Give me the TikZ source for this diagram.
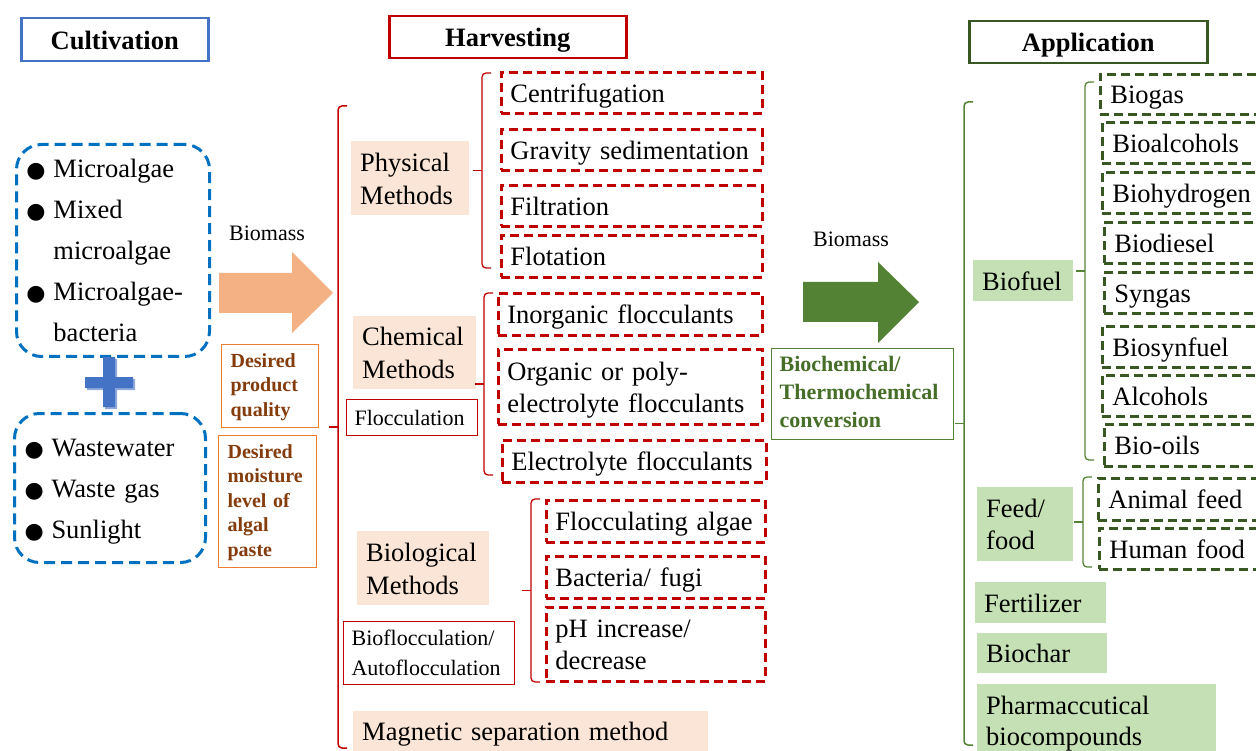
\documentclass[tikz,border=0pt]{standalone}
\usepackage{fontspec}
\setmainfont{Liberation Serif}
\newfontfamily\symfont{DejaVu Sans}
\usetikzlibrary{calc}
\definecolor{hred}{RGB}{192,0,0}
\definecolor{hblue}{RGB}{68,114,196}
\definecolor{cblue}{RGB}{0,112,192}
\definecolor{plusshade}{RGB}{143,170,220}
\definecolor{peach}{RGB}{251,229,214}
\definecolor{lgreen}{RGB}{197,224,180}
\definecolor{dgreen}{RGB}{56,87,35}
\definecolor{mgreen}{RGB}{84,130,53}
\definecolor{convgreen}{RGB}{70,110,40}
\definecolor{orng}{RGB}{244,177,131}
\definecolor{orngline}{RGB}{237,125,49}
\definecolor{brownt}{RGB}{132,60,12}
\newcommand{\bul}{\makebox[27pt][l]{\symfont\fontsize{22}{22}\selectfont ●}}
\newcommand{\nobul}{\hspace*{27pt}}
% side brace: top, bottom, tick in the middle
\newcommand{\sidebrace}[3][]{%
  \draw[brk,#1] ($(#2)+(9,0)$) -- (#2) -- (#3) -- ($(#3)+(9,0)$);
  \draw[brk,#1] ($(#2)!0.5!(#3)$) -- ++(-9,0);}
\begin{document}
\begin{tikzpicture}[x=1pt,y=-1pt,
    every node/.style={anchor=north west, inner ysep=0pt, align=left},
    title/.style={draw=#1, line width=2.5pt, align=center, inner xsep=0pt,
        font=\bfseries\fontsize{26.5}{30}\selectfont, text height=24pt, text depth=5pt},
    rbox/.style={draw=hred, line width=2.8pt, dash pattern=on 9pt off 5pt, inner xsep=9pt,
        font=\fontsize{26.5}{32}\selectfont, text height=24pt, text depth=5pt},
    gbox/.style={draw=dgreen, line width=2.8pt, dash pattern=on 9pt off 5pt, inner xsep=10pt,
        font=\fontsize{26.5}{32}\selectfont, text height=24pt, text depth=5pt},
    pfill/.style={fill=peach, inner xsep=9pt,
        font=\fontsize{26.5}{33}\selectfont, text height=24pt, text depth=5pt},
    gfill/.style={fill=lgreen, inner xsep=9pt,
        font=\fontsize{26.5}{32}\selectfont, text height=24pt, text depth=5pt},
    small/.style={draw=hred, line width=1.2pt, inner xsep=8pt,
        font=\fontsize{22}{30}\selectfont, text height=19pt, text depth=4pt},
    cond/.style={draw=orngline, line width=1.2pt, text=brownt, inner xsep=9pt,
        font=\bfseries\fontsize{20}{24.5}\selectfont, text height=15pt},
    conv/.style={draw=mgreen, line width=1.2pt, text=convgreen, inner xsep=8pt,
        font=\bfseries\fontsize{22}{28}\selectfont, text height=16pt},
    cult/.style={draw=cblue, line width=3pt, dash pattern=on 11pt off 6pt, rounded corners=25pt,
        inner xsep=10pt, font=\fontsize{26.5}{41}\selectfont, text height=24pt},
    brk/.style={line width=1.3pt, rounded corners=4pt},
    lbl/.style={anchor=center, font=\fontsize{22}{22}\selectfont}]
    \path[use as bounding box, clip] (0,0) rectangle (1256,751);
    % Titles
    \node[title=hblue, text width=187pt, minimum height=43pt] (cultT) at (20,17) {Cultivation};
    \node[title=hred, text width=237pt, minimum height=42pt] (harvT) at (388,15) {Harvesting};
    \node[title=dgreen, text width=238pt, minimum height=42pt] (applT) at (968,20) {Application};
    % Cultivation
    \node[cult, text width=173pt, minimum height=212pt, text depth=169pt] (cult1) at (15,143)
        {\bul Microalgae\\\bul Mixed\\\nobul microalgae\\\bul Microalgae-\\\nobul bacteria};
    \node[cult, text width=171pt, minimum height=149pt, text depth=87pt] (cult2) at (13,412)
        {\bul Wastewater\\\bul Waste gas\\\bul Sunlight};
    \fill[plusshade] (87,379) rectangle (135,390) (105,359) rectangle (117,409);
    \fill[hblue] (85,377) rectangle (133,388) (103,357) rectangle (115,407);
    % Cultivation -> Harvesting
    \node[lbl] (bm1) at (267,233) {Biomass};
    \fill[orng] (219,273) -- (292,273) -- (292,252) -- (333,293) -- (292,333) -- (292,313) -- (219,313) -- cycle;
    \node[cond, text width=79pt, minimum height=83pt, text depth=53pt] (qual) at (221,344)
        {Desired\\product\\quality};
    \node[cond, text width=80pt, minimum height=132pt, text depth=102pt] (moist) at (218,435)
        {Desired\\moisture\\level of\\algal\\paste};
    % Harvesting
    \coordinate (hv-top) at (338,106);
    \coordinate (hv-bot) at (338,748);
    \sidebrace[hred, line width=1.5pt]{hv-top}{hv-bot}
    \node[pfill, text width=100pt, minimum height=74pt, text depth=38pt] (phys) at (351,141) {Physical\\Methods};
    \node[rbox, text width=243pt, minimum height=41pt] (cent) at (500,71) {Centrifugation};
    \node[rbox, text width=243pt, minimum height=41pt] (grav) at (500,128) {Gravity sedimentation};
    \node[rbox, text width=243pt, minimum height=41pt] (filt) at (500,184) {Filtration};
    \node[rbox, text width=243pt, minimum height=42pt] (flot) at (500,234) {Flotation};
    \coordinate (phys-top) at (482,73);
    \coordinate (phys-bot) at (482,268);
    \sidebrace[hred]{phys-top}{phys-bot}
    \node[pfill, text width=105pt, minimum height=73pt, text depth=38pt] (chem) at (353,316) {Chemical\\Methods};
    \node[small, text width=115pt, minimum height=36pt] (floc) at (346,399) {Flocculation};
    \node[rbox, text width=246pt, minimum height=42pt] (inorg) at (497,292) {Inorganic flocculants};
    \node[rbox, text width=246pt, minimum height=75pt, text depth=37pt] (org) at (497,348)
        {Organic or poly-\\electrolyte flocculants};
    \node[rbox, text width=246pt, minimum height=42pt] (elec) at (501,439) {Electrolyte flocculants};
    \coordinate (chem-top) at (484,293);
    \coordinate (chem-bot) at (484,475);
    \sidebrace[hred]{chem-top}{chem-bot}
    \node[pfill, text width=114pt, minimum height=74pt, text depth=38pt] (bio) at (357,531) {Biological\\Methods};
    \node[small, text width=155pt, minimum height=63pt, text depth=34pt] (bioflo) at (343,621)
        {Bioflocculation/\\Autoflocculation};
    \node[rbox, text width=201pt, minimum height=42pt] (floca) at (545,499) {Flocculating algae};
    \node[rbox, text width=201pt, minimum height=42pt] (bact) at (545,555) {Bacteria/ fugi};
    \node[rbox, text width=201pt, minimum height=74pt, text depth=37pt] (ph) at (545,606)
        {pH increase/\\decrease};
    \coordinate (bio-top) at (531,499);
    \coordinate (bio-bot) at (531,682);
    \sidebrace[hred]{bio-top}{bio-bot}
    \node[pfill, text width=337pt, minimum height=40pt] (magn) at (353,711) {Magnetic separation method};
    % Harvesting -> Application
    \node[lbl] (bm2) at (851,239) {Biomass};
    \fill[mgreen] (803,282) -- (878,282) -- (878,262) -- (919,302) -- (878,343) -- (878,322) -- (803,322) -- cycle;
    \node[conv, text width=166pt, minimum height=91pt, text depth=61pt] (conv) at (771,348)
        {Biochemical/\\Thermochemical\\conversion};
    % Application
    \coordinate (ap-top) at (964,102);
    \coordinate (ap-bot) at (964,745);
    \sidebrace[mgreen, line width=1.5pt]{ap-top}{ap-bot}
    \node[gfill, text width=82pt, minimum height=41pt] (fuel) at (973,260) {Biofuel};
    \node[gbox, text width=143pt, minimum height=40pt] (biogas) at (1099,73) {Biogas};
    \node[gbox, text width=141pt, minimum height=41pt] (bioalc) at (1101,121) {Bioalcohols};
    \node[gbox, text width=141pt, minimum height=41pt] (bioh) at (1101,171) {Biohydrogen};
    \node[gbox, text width=139pt, minimum height=41pt] (biodsl) at (1103,221) {Biodiesel};
    \node[gbox, text width=139pt, minimum height=41pt] (syngas) at (1103,271) {Syngas};
    \node[gbox, text width=141pt, minimum height=41pt] (biosyn) at (1101,325) {Biosynfuel};
    \node[gbox, text width=141pt, minimum height=41pt] (alcoh) at (1101,374) {Alcohols};
    \node[gbox, text width=139pt, minimum height=42pt] (biooil) at (1103,423) {Bio-oils};
    \coordinate (fuel-top) at (1085,82);
    \coordinate (fuel-bot) at (1085,460);
    \sidebrace[mgreen]{fuel-top}{fuel-bot}
    \node[gfill, text width=78pt, minimum height=74pt, text depth=37pt] (feed) at (977,487) {Feed/\\food};
    \node[gbox, text width=145pt, minimum height=42pt] (animal) at (1097,477) {Animal feed};
    \node[gbox, text width=144pt, minimum height=41pt] (human) at (1098,527) {Human food};
    \coordinate (feed-top) at (1083,477);
    \coordinate (feed-bot) at (1083,567);
    \sidebrace[mgreen]{feed-top}{feed-bot}
    \node[gfill, text width=113pt, minimum height=41pt] (fert) at (975,582) {Fertilizer};
    \node[gfill, text width=112pt, minimum height=40pt] (char) at (977,633) {Biochar};
    \node[gfill, text width=221pt, minimum height=72pt, text depth=36pt, font=\fontsize{26.5}{31}\selectfont] (pharm) at (977,684)
        {Pharmaccutical\\biocompounds};
\end{tikzpicture}
\end{document}
